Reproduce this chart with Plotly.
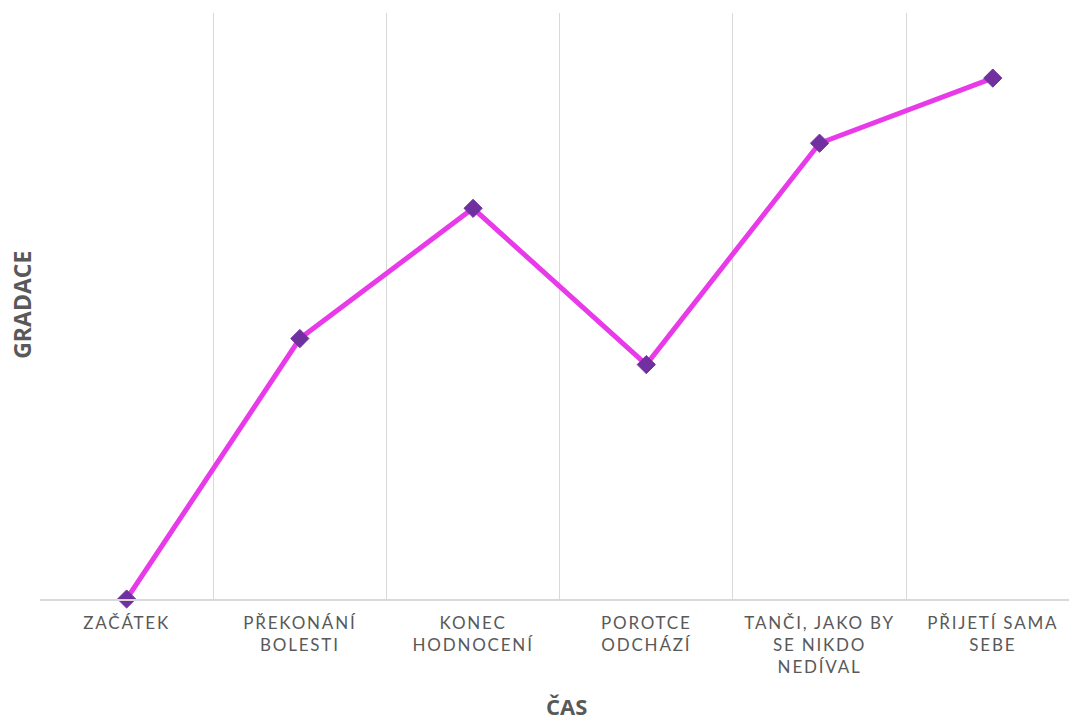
import plotly.graph_objects as go

categories = ["ZAČÁTEK", "PŘEKONÁNÍ<br>BOLESTI", "KONEC<br>HODNOCENÍ", "POROTCE<br>ODCHÁZÍ",
              "TANČI, JAKO BY<br>SE NIKDO<br>NEDÍVAL", "PŘIJETÍ SAMA<br>SEBE"]
values = [0, 4, 6, 3.6, 7, 8]

fig = go.Figure()
fig.add_trace(go.Scatter(
    x=categories, y=values, mode="lines+markers",
    line=dict(color="#E83AE8", width=5),
    marker=dict(symbol="diamond", size=14, color="#7030A0",
                line=dict(width=1, color="#7030A0")),
    cliponaxis=False, showlegend=False,
))

fig.update_layout(
    width=1069, height=722,
    margin=dict(l=40, r=0, t=13, b=123),
    paper_bgcolor="white", plot_bgcolor="white",
    font=dict(family="Lato, 'Open Sans', sans-serif", color="#595959"),
    xaxis=dict(
        type="category", range=[-0.5, 5.44], tickson="boundaries",
        showgrid=True, gridcolor="#D9D9D9", gridwidth=1,
        showline=True, linecolor="#D9D9D9", linewidth=1.5,
        ticks="", tickfont=dict(size=17, color="#595959"),
        ticklabelstandoff=8, zeroline=False,
    ),
    yaxis=dict(
        range=[0, 9], showgrid=False, showticklabels=False, zeroline=False,
        showline=False, ticks="",
    ),
    annotations=[
        dict(text="<b>ČAS</b>", xref="paper", yref="paper", x=0.512, y=-0.182,
             xanchor="center", yanchor="middle",
             showarrow=False, font=dict(size=22, color="#595959",
                                        family="'Open Sans', sans-serif")),
        dict(text="<b>GRADACE</b>", xref="paper", yref="paper", x=-0.0175, y=0.502,
             xanchor="center", yanchor="middle",
             showarrow=False, textangle=-90,
             font=dict(size=23, color="#595959", family="'Open Sans', sans-serif")),
    ],
)

spacing_js = """
document.querySelectorAll('.xtick text').forEach(function(t){
  t.style.letterSpacing = '1.8px';
});
"""

fig.write_html("out.html", post_script=spacing_js)
